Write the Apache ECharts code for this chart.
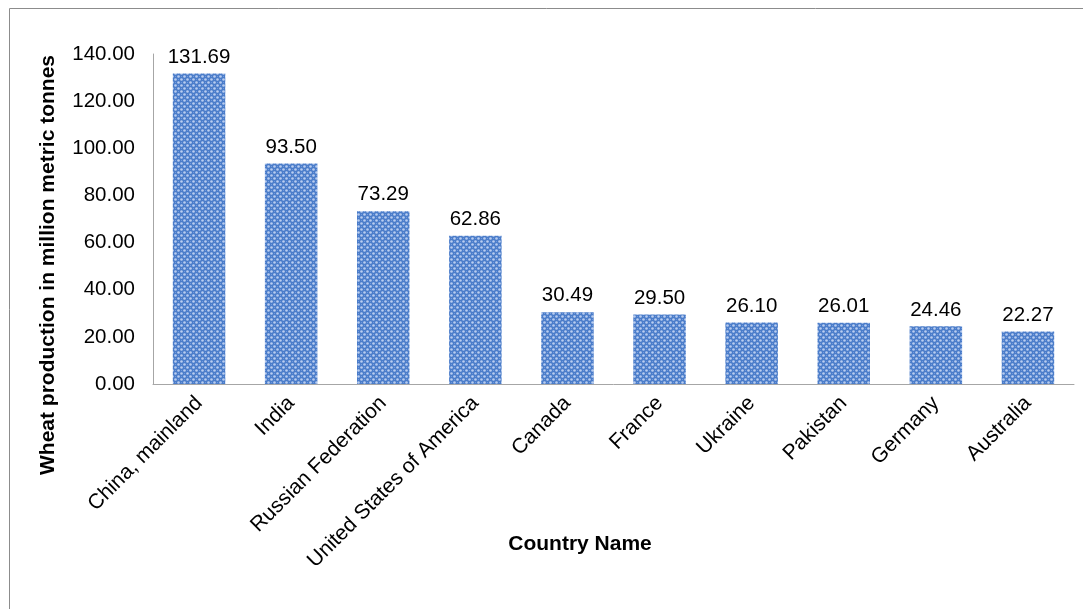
<!DOCTYPE html>
<html><head><meta charset="utf-8">
<script src="https://cdn.jsdelivr.net/npm/echarts@6/dist/echarts.min.js"></script>
<style>html,body{margin:0;padding:0;background:#fff}#c{width:1083px;height:609px}</style>
</head><body><div id="c"></div>
<script>
const countries = ["China, mainland","India","Russian Federation","United States of America","Canada","France","Ukraine","Pakistan","Germany","Australia"];
const production = [131.69,93.50,73.29,62.86,30.49,29.50,26.10,26.01,24.46,22.27];
const yTicks = [0,20,40,60,80,100,120,140];
const xTitle = "Country Name";
const yTitle = "Wheat production in million metric tonnes";

function makePattern(){
  const c = document.createElement('canvas');
  c.width = 6; c.height = 6;
  const g = c.getContext('2d');
  g.fillStyle = '#4a7cc9'; g.fillRect(0,0,6,6);
  g.fillStyle = '#b9cdf0';
  g.beginPath(); g.arc(1.5,1.5,1.3,0,Math.PI*2); g.fill();
  g.beginPath(); g.arc(4.5,4.5,1.3,0,Math.PI*2); g.fill();
  g.fillStyle = '#6f98dc';
  g.fillRect(4,1,1,1); g.fillRect(1,4,1,1);
  return c;
}
const font = "'Liberation Sans', Arial, sans-serif";
const chart = echarts.init(document.getElementById('c'), null, {renderer:'canvas'});
chart.setOption({
  animation:false,
  graphic:[
    {type:'rect',shape:{x:9.5,y:8.5,width:1200,height:800},style:{fill:'none',stroke:'#8c8c8c',lineWidth:1},silent:true},
    {type:'text',x:48,y:265,rotation:Math.PI/2,style:{text:yTitle,font:"bold 21px "+font,fill:'#000',textAlign:'center',textVerticalAlign:'middle'}},
    {type:'text',x:580,y:544,style:{text:xTitle,font:"bold 21px "+font,fill:'#000',textAlign:'center',textVerticalAlign:'middle'}}
  ],
  grid:{left:153,right:9,top:54,bottom:225},
  xAxis:{type:'category',data:countries,
    axisLine:{lineStyle:{color:'#a6a6a6'}},axisTick:{show:false},
    axisLabel:{rotate:45,interval:0,fontSize:21,color:'#000',fontFamily:font,margin:16}},
  yAxis:{type:'value',min:yTicks[0],max:yTicks[yTicks.length-1],interval:20,
    axisLine:{show:true,lineStyle:{color:'#a6a6a6'}},axisTick:{show:false},splitLine:{show:false},
    axisLabel:{fontSize:20.5,color:'#000',fontFamily:font,margin:18,formatter:v=>v.toFixed(2)}},
  series:[{type:'bar',data:production,barWidth:'57%',
    itemStyle:{color:{image:makePattern(),repeat:'repeat'}},
    label:{show:true,position:'top',distance:6,fontSize:20.5,color:'#000',fontFamily:font,formatter:p=>p.value.toFixed(2)}}]
});
</script></body></html>
